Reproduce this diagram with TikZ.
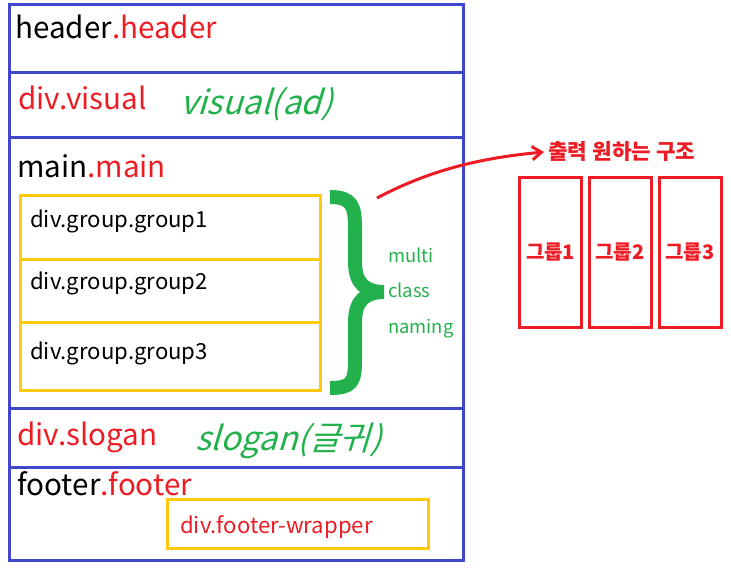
\documentclass[tikz,border=0pt]{standalone}
\usepackage{fontspec}
\setmainfont{Noto Sans CJK KR}
\newfontfamily\handfont[FakeSlant=0.3]{Noto Sans CJK KR}
\usetikzlibrary{arrows.meta}
\definecolor{pblue}{RGB}{63, 72, 204}
\definecolor{pred}{RGB}{237, 28, 36}
\definecolor{pgreen}{RGB}{34, 177, 76}
\definecolor{pyellow}{RGB}{255, 201, 14}

\begin{document}
\begin{tikzpicture}[x = 0.75pt, y = -0.75pt,
  lbl/.style = {anchor = base west, inner sep = 0pt},
  tag/.style = {lbl, font = \fontsize{22.2}{22}\selectfont},
  grp/.style = {lbl, font = \fontsize{16.6}{16}\selectfont},
  note/.style = {lbl, text = pgreen, font = \fontsize{13.8}{14}\selectfont},
  hand/.style = {lbl, text = pgreen, font = \handfont\fontsize{25}{25}\selectfont},
  col/.style = {draw = pred, line width = 2.25pt, minimum width = 46.5pt, minimum height = 112.5pt, inner sep = 0pt,
    font = \bfseries\fontsize{15}{15}\selectfont, text = pred}]
			\useasboundingbox (0,0) rectangle (731,571);
			% page frame
			\draw [pblue, line width = 2.25pt] (9,4) rectangle (463,560);
			\foreach \y in {72, 137, 408} {
				\draw [pblue, line width = 2.25pt] (9,\y) -- (463,\y);
			}
			\draw [pblue, line width = 2.25pt] (9,467) -- (465,467);
			% section labels
			\node (hdr) at (15,38) [tag] {header\textcolor{pred}{.header}};
			\node (vis) at (18,109) [tag, text = pred] {div.visual};
			\node (visnote) at (180,114) [hand] {visual(ad)};
			\node (mn) at (17,177) [tag] {main\textcolor{pred}{.main}};
			\node (slg) at (17,445) [tag, text = pred] {div.slogan};
			\node (slgnote) at (195,450) [hand] {slogan(글귀)};
			\node (ftr) at (17,495) [tag] {footer\textcolor{pred}{.footer}};
			% groups
			\draw [pyellow, line width = 2.25pt] (20,195) rectangle (320,390);
			\draw [pyellow, line width = 2.25pt] (20,259) -- (321,259);
			\draw [pyellow, line width = 2.25pt] (20,322) -- (320,322);
			\node (g1) at (30,227) [grp] {div.group.group1};
			\node (g2) at (30,289) [grp] {div.group.group2};
			\node (g3) at (30,359) [grp] {div.group.group3};
			% footer wrapper
			\draw [pyellow, line width = 2.25pt] (167,499) rectangle (428,548);
			\node (fw) at (180,533) [grp, text = pred] {div.footer-wrapper};
			% brace
			\draw [pgreen, line width = 10.5pt] (330,197) .. controls (352,197) and (355,206) .. (355,228) -- (355,262)
				.. controls (355,283) and (365,292) .. (384,292)
				.. controls (365,292) and (355,301) .. (355,322) -- (355,360)
				.. controls (355,382) and (352,388) .. (330,388);
			\node (m1) at (388,262) [note] {multi};
			\node (m2) at (388,297) [note] {class};
			\node (m3) at (388,333) [note] {naming};
			% wanted output
			\node (out) at (548,159) [lbl, text = pred, font = \bfseries\fontsize{16}{16}\selectfont] {출력 원하는 구조};
			\coordinate (start) at (377,198);
			\draw [pred, line width = 2.25pt, -{Straight Barb[length = 7pt, width = 10pt]}]
				(start) .. controls (430,170) and (480,158) .. ([xshift = -3pt]out.base west |- 0,152);
			\node (c1) at (550.5,252) [col] {그룹1};
			\node (c2) at (620,252) [col] {그룹2};
			\node (c3) at (690,252) [col] {그룹3};
\end{tikzpicture}
\end{document}
